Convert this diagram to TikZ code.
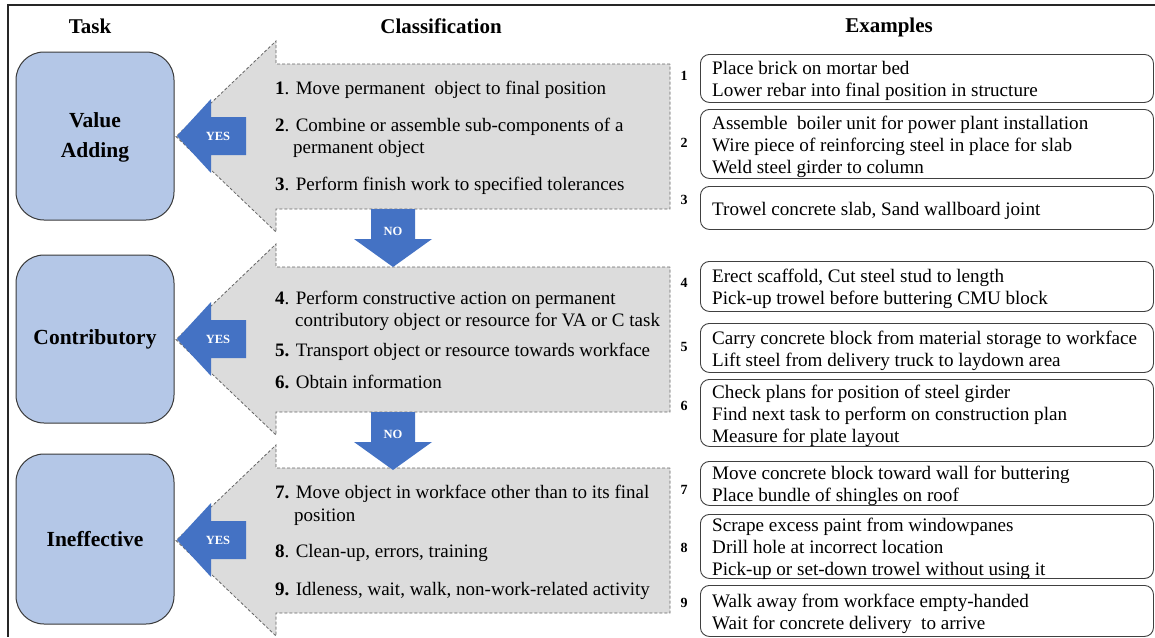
\documentclass[tikz,border=0pt]{standalone}
\usepackage{fontspec}
\setmainfont{Liberation Serif}
\newfontfamily\tnr{Liberation Serif}
\definecolor{taskfill}{HTML}{B4C7E7}
\definecolor{taskline}{HTML}{3A3A3A}
\definecolor{grayfill}{HTML}{DCDCDC}
\definecolor{dashline}{HTML}{666666}
\definecolor{arrblue}{HTML}{4472C4}
\definecolor{exline}{HTML}{404040}
\begin{document}
\begin{tikzpicture}[x=1pt,y=-1pt,
  every node/.style={inner sep=0pt, font=\tnr\fontsize{19}{22}\selectfont},
  hdr/.style={font=\tnr\fontsize{21}{24}\selectfont\bfseries},
  taskbox/.style={draw=taskline, line width=1pt, fill=taskfill, rounded corners=28pt,
     minimum width=158pt},
  tasktext/.style={align=center, font=\tnr\fontsize{21.5}{30}\selectfont\bfseries},
  bigarrow/.style={fill=grayfill, draw=dashline, line width=0.8pt, dash pattern=on 3pt off 2pt},
  bluearrow/.style={fill=arrblue, draw=none},
  arrlabel/.style={text=white, font=\tnr\fontsize{12.5}{14}\selectfont\bfseries},
  item/.style={anchor=west, yshift=-2pt},
  exbox/.style={draw=exline, line width=0.9pt, rounded corners=9pt,
     minimum width=453pt, anchor=north west},
  extext/.style={anchor=west, align=left, yshift=-2.5pt, font=\tnr\fontsize{19.1}{22}\selectfont},
  exnum/.style={font=\tnr\fontsize{14}{16}\selectfont\bfseries}
]
\useasboundingbox (0,0) rectangle (1155,637);
\fill[white] (0,0) rectangle (1155,637);
% frame
\draw[line width=1.2pt, black!85] (1155,5) -- (8,5) -- (8,637);

% headers
\node[hdr] (hTask) at (90,26) {Task};
\node[hdr] (hClass) at (441,26) {Classification};
\node[hdr] (hEx) at (889,27) {Examples};

% task boxes
\node[taskbox, minimum height=168pt] (t1) at (95,136) {};
\node[taskbox, minimum height=168pt] (t2) at (95,339) {};
\node[taskbox, minimum height=170pt] (t3) at (95,539) {};
\node[tasktext] (t1t) at (95,137) {Value\\Adding};
\node[tasktext] (t2t) at (95,339) {Contributory};
\node[tasktext] (t3t) at (95,539) {Ineffective};

% big gray arrows
\foreach \cy in {136.5,339.5,540.5}{
  \draw[bigarrow] (670,\cy-72.5) -- (276,\cy-72.5) -- (276,\cy-95.5) -- (176,\cy)
     -- (276,\cy+95.5) -- (276,\cy+72.5) -- (670,\cy+72.5) -- cycle;
}

% YES arrows
\foreach \cy/\nm in {136/y1,339/y2,540/y3}{
  \fill[bluearrow] (177,\cy) -- (211,\cy-37) -- (211,\cy-19) -- (246,\cy-19)
     -- (246,\cy+19) -- (211,\cy+19) -- (211,\cy+37) -- cycle;
  \node[arrlabel] (\nm) at (218,\cy) {YES};
}

% NO arrows
\foreach \ty/\nm in {209/n1,412/n2}{
  \fill[bluearrow] (371,\ty) -- (415,\ty) -- (415,\ty+30) -- (432,\ty+30)
     -- (393,\ty+58) -- (354,\ty+30) -- (371,\ty+30) -- cycle;
  \node[arrlabel] (\nm) at (393,\ty+22) {NO};
}

% classification items
\node[item] (c1) at (275,88) {\textbf{1}. Move permanent\ \ object to final position};
\node[item] (c2) at (275,125) {\textbf{2}. Combine or assemble sub-components of a};
\node[item] (c2b) at (293,147) {permanent object};
\node[item] (c3) at (275,184) {\textbf{3}. Perform finish work to specified tolerances};
\node[item] (c4) at (275,298) {\textbf{4}. Perform constructive action on permanent};
\node[item] (c4b) at (295,320) {contributory object or resource for VA or C task};
\node[item] (c5) at (275,350) {\textbf{5.} Transport object or resource towards workface};
\node[item] (c6) at (275,380) {\textbf{6.} Obtain information};
\node[item] (c7) at (275,492) {\textbf{7.} Move object in workface other than to its final};
\node[item] (c7b) at (294,515) {position};
\node[item] (c8) at (275,551) {\textbf{8}. Clean-up, errors, training};
\node[item] (c9) at (275,589) {\textbf{9.} Idleness, wait, walk, non-work-related activity};

% example boxes
\node[exbox, minimum height=48pt] (e1) at (700,54) {};
\node[exbox, minimum height=69pt] (e2) at (700,109) {};
\node[exbox, minimum height=43pt] (e3) at (700,186) {};
\node[exbox, minimum height=50pt] (e4) at (700,261) {};
\node[exbox, minimum height=49pt] (e5) at (700,323) {};
\node[exbox, minimum height=67pt] (e6) at (700,379) {};
\node[exbox, minimum height=44pt] (e7) at (700,461) {};
\node[exbox, minimum height=64pt] (e8) at (700,514) {};
\node[exbox, minimum height=51pt] (e9) at (700,585) {};

\node[extext] (e1t) at ([xshift=12pt]e1.west) {Place brick on mortar bed\\Lower rebar into final position in structure};
\node[extext] (e2t) at ([xshift=12pt]e2.west) {Assemble\ \ boiler unit for power plant installation\\Wire piece of reinforcing steel in place for slab\\Weld steel girder to column};
\node[extext] (e3t) at ([xshift=12pt]e3.west) {Trowel concrete slab, Sand wallboard joint};
\node[extext] (e4t) at ([xshift=12pt]e4.west) {Erect scaffold, Cut steel stud to length\\Pick-up trowel before buttering CMU block};
\node[extext] (e5t) at ([xshift=12pt]e5.west) {Carry concrete block from material storage to workface\\Lift steel from delivery truck to laydown area};
\node[extext] (e6t) at ([xshift=12pt]e6.west) {Check plans for position of steel girder\\Find next task to perform on construction plan\\Measure for plate layout};
\node[extext] (e7t) at ([xshift=12pt]e7.west) {Move concrete block toward wall for buttering\\Place bundle of shingles on roof};
\node[extext] (e8t) at ([xshift=12pt]e8.west) {Scrape excess paint from windowpanes\\Drill hole at incorrect location\\Pick-up or set-down trowel without using it};
\node[extext] (e9t) at ([xshift=12pt]e9.west) {Walk away from workface empty-handed\\Wait for concrete delivery\ \ to arrive};

% example numbers
\node[exnum] (k1) at (684,76) {1};
\node[exnum] (k2) at (684,143) {2};
\node[exnum] (k3) at (684,200) {3};
\node[exnum] (k4) at (684,283) {4};
\node[exnum] (k5) at (684,347) {5};
\node[exnum] (k6) at (684,406) {6};
\node[exnum] (k7) at (684,490) {7};
\node[exnum] (k8) at (684,548) {8};
\node[exnum] (k9) at (684,603) {9};
\end{tikzpicture}
\end{document}
